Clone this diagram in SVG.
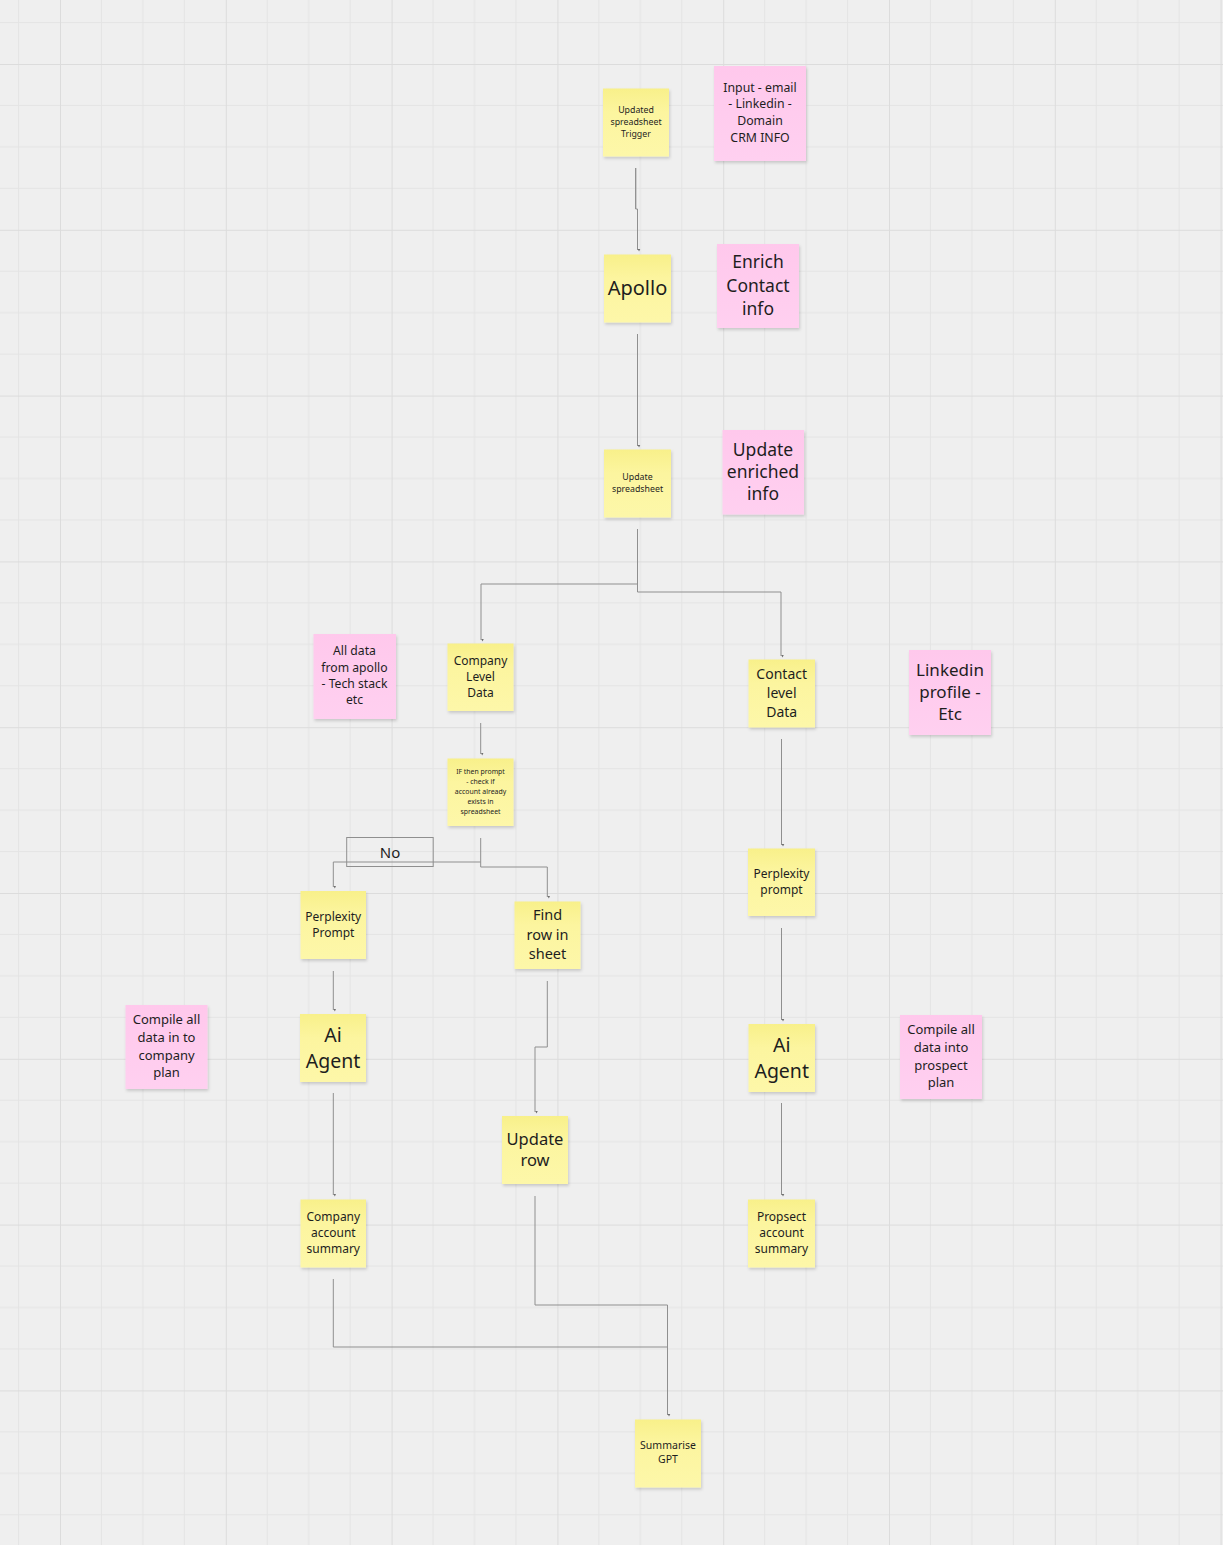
<svg xmlns="http://www.w3.org/2000/svg" width="1223" height="1545" viewBox="0 0 1223 1545">
<style>
  .t { font-family: "Noto Sans", "Open Sans", "DejaVu Sans", sans-serif; fill: #1e1e1e; text-anchor: middle; }
  .y { fill: url(#yg); filter: url(#sh); }
  .p { fill: url(#pg); filter: url(#sh); }
  .c { fill: none; stroke: #8f8f8f; stroke-width: 1; marker-end: url(#ah); }
  .cn { fill: none; stroke: #8f8f8f; stroke-width: 1; }
</style>
<defs>
  <pattern id="grid" patternUnits="userSpaceOnUse" x="60" y="64" width="165.8" height="165.8">
    <rect width="165.8" height="165.8" fill="#efefef"/>
    <path d="M41.45,0V165.8M82.9,0V165.8M124.35,0V165.8M0,41.45H165.8M0,82.9H165.8M0,124.35H165.8" stroke="#e4e4e4" stroke-width="1"/>
    <path d="M0.5,0V165.8M0,0.5H165.8" stroke="#dcdcdc" stroke-width="1"/>
  </pattern>
  <linearGradient id="yg" x1="0" y1="0" x2="0" y2="1">
    <stop offset="0" stop-color="#f8f08a"/>
    <stop offset="0.35" stop-color="#fcf59f"/>
    <stop offset="1" stop-color="#fdf7a9"/>
  </linearGradient>
  <linearGradient id="pg" x1="0" y1="0" x2="0" y2="1">
    <stop offset="0" stop-color="#ffc8ec"/>
    <stop offset="1" stop-color="#ffd0f0"/>
  </linearGradient>
  <filter id="sh" x="-10%" y="-10%" width="130%" height="130%">
    <feDropShadow dx="1" dy="2" stdDeviation="1.5" flood-color="#000" flood-opacity="0.16"/>
  </filter>
  <marker id="ah" viewBox="0 0 6 6" refX="3" refY="6" markerWidth="3" markerHeight="3" orient="auto-start-reverse" markerUnits="userSpaceOnUse">
    <path d="M0,0L6,0L3,6Z" fill="#6f6f6f" transform="rotate(-90 3 3)"/>
  </marker>
</defs>
<rect width="1223" height="1545" fill="url(#grid)"/>

<g id="connectors">
  <path class="cn" d="M635.7,168V209" stroke="#c4c4c4"/>
  <path class="c" d="M635.7,168V209H637.5V250"/>
  <path class="c" d="M637.5,334V446"/>
  <path class="c" d="M637.5,529V584H481V640"/>
  <path class="c" d="M637.5,584V592H781V656"/>
  <path class="c" d="M480.7,723V754"/>
  <path class="c" d="M480.7,838V862H333.3V887"/>
  <path class="c" d="M480.7,862V867H547.3V897"/>
  <path class="c" d="M333.3,971V1010"/>
  <path class="c" d="M547.3,981V1047H535V1112"/>
  <path class="c" d="M333.3,1093V1195"/>
  <path class="c" d="M781.5,739V845"/>
  <path class="c" d="M781.5,928V1020"/>
  <path class="c" d="M781.5,1103V1195"/>
  <path class="c" d="M535,1196V1305H667.5V1415"/>
  <path class="cn" d="M333.3,1279V1347H667.5"/>
</g>

<g id="no-label">
  <rect x="346.7" y="837.5" width="86.5" height="29" fill="none" stroke="#8f8f8f" stroke-width="1"/>
  <text class="t" x="390" y="858" font-size="15">No</text>
</g>

<g id="trigger">
  <rect class="y" x="603" y="88.5" width="66" height="68"/>
  <text class="t" font-size="8.8"><tspan x="636" y="113">Updated</tspan><tspan x="636" y="125">spreadsheet</tspan><tspan x="636" y="137">Trigger</tspan></text>
</g>

<g id="input-note">
  <rect class="p" x="714" y="66" width="92" height="95"/>
  <text class="t" font-size="12.3"><tspan x="760" y="91.5">Input - email</tspan><tspan x="760" y="108">- Linkedin -</tspan><tspan x="760" y="124.5">Domain</tspan><tspan x="760" y="141.5">CRM INFO</tspan></text>
</g>

<g id="apollo">
  <rect class="y" x="604" y="254.5" width="67" height="68"/>
  <text class="t" x="637.5" y="295" font-size="20">Apollo</text>
</g>

<g id="enrich-note">
  <rect class="p" x="717" y="244" width="82" height="84"/>
  <text class="t" font-size="17.5"><tspan x="758" y="268">Enrich</tspan><tspan x="758" y="291.5">Contact</tspan><tspan x="758" y="315">info</tspan></text>
</g>

<g id="update-spreadsheet">
  <rect class="y" x="604" y="449.5" width="67" height="68"/>
  <text class="t" font-size="8.8"><tspan x="637.5" y="480">Update</tspan><tspan x="637.5" y="492">spreadsheet</tspan></text>
</g>

<g id="update-enriched-note">
  <rect class="p" x="722.5" y="430" width="81.5" height="84.5"/>
  <text class="t" font-size="17.5"><tspan x="763" y="456">Update</tspan><tspan x="763" y="478">enriched</tspan><tspan x="763" y="500">info</tspan></text>
</g>

<g id="apollo-data-note">
  <rect class="p" x="313.5" y="634" width="82.5" height="85"/>
  <text class="t" font-size="12.2"><tspan x="354.5" y="655">All data</tspan><tspan x="354.5" y="671.5">from apollo</tspan><tspan x="354.5" y="688">- Tech stack</tspan><tspan x="354.5" y="704">etc</tspan></text>
</g>

<g id="company-level">
  <rect class="y" x="447.5" y="643.5" width="66" height="67.5"/>
  <text class="t" font-size="12"><tspan x="480.5" y="665">Company</tspan><tspan x="480.5" y="681">Level</tspan><tspan x="480.5" y="697">Data</tspan></text>
</g>

<g id="if-prompt">
  <rect class="y" x="447.5" y="758.5" width="66" height="67.5"/>
  <text class="t" font-size="6.9"><tspan x="480.5" y="773.5">IF then prompt</tspan><tspan x="480.5" y="783.5">- check if</tspan><tspan x="480.5" y="793.5">account already</tspan><tspan x="480.5" y="803.5">exists in</tspan><tspan x="480.5" y="814">spreadsheet</tspan></text>
</g>

<g id="perplexity-left">
  <rect class="y" x="300.5" y="891" width="65.5" height="68"/>
  <text class="t" font-size="12"><tspan x="333.3" y="920.5">Perplexity</tspan><tspan x="333.3" y="936.5">Prompt</tspan></text>
</g>

<g id="find-row">
  <rect class="y" x="514.5" y="901.5" width="66" height="67.5"/>
  <text class="t" font-size="14.5"><tspan x="547.5" y="920">Find</tspan><tspan x="547.5" y="939.5">row in</tspan><tspan x="547.5" y="958.5">sheet</tspan></text>
</g>

<g id="contact-level">
  <rect class="y" x="748.5" y="659.5" width="66.5" height="68"/>
  <text class="t" font-size="14"><tspan x="781.7" y="679">Contact</tspan><tspan x="781.7" y="697.5">level</tspan><tspan x="781.7" y="716.5">Data</tspan></text>
</g>

<g id="linkedin-note">
  <rect class="p" x="909" y="650" width="82" height="85"/>
  <text class="t" font-size="17"><tspan x="950" y="675.5">Linkedin</tspan><tspan x="950" y="697.5">profile -</tspan><tspan x="950" y="720">Etc</tspan></text>
</g>

<g id="perplexity-right">
  <rect class="y" x="748" y="848.5" width="67" height="67.5"/>
  <text class="t" font-size="12"><tspan x="781.5" y="877.5">Perplexity</tspan><tspan x="781.5" y="893.5">prompt</tspan></text>
</g>

<g id="company-plan-note">
  <rect class="p" x="125.5" y="1005" width="82" height="84"/>
  <text class="t" font-size="13"><tspan x="166.5" y="1024">Compile all</tspan><tspan x="166.5" y="1042">data in to</tspan><tspan x="166.5" y="1060">company</tspan><tspan x="166.5" y="1077">plan</tspan></text>
</g>

<g id="ai-agent-left">
  <rect class="y" x="300" y="1014" width="66" height="68"/>
  <text class="t" font-size="19.5"><tspan x="333" y="1042">Ai</tspan><tspan x="333" y="1068">Agent</tspan></text>
</g>

<g id="ai-agent-right">
  <rect class="y" x="748.5" y="1024" width="66.5" height="68"/>
  <text class="t" font-size="19.5"><tspan x="781.7" y="1052">Ai</tspan><tspan x="781.7" y="1078">Agent</tspan></text>
</g>

<g id="prospect-plan-note">
  <rect class="p" x="900" y="1015" width="82" height="84"/>
  <text class="t" font-size="13"><tspan x="941" y="1034">Compile all</tspan><tspan x="941" y="1052">data into</tspan><tspan x="941" y="1070">prospect</tspan><tspan x="941" y="1087">plan</tspan></text>
</g>

<g id="update-row">
  <rect class="y" x="502" y="1116" width="66" height="68"/>
  <text class="t" font-size="16.5"><tspan x="535" y="1145">Update</tspan><tspan x="535" y="1166">row</tspan></text>
</g>

<g id="company-summary">
  <rect class="y" x="300.5" y="1199.5" width="65.5" height="68"/>
  <text class="t" font-size="12"><tspan x="333.3" y="1220.5">Company</tspan><tspan x="333.3" y="1236.5">account</tspan><tspan x="333.3" y="1252.5">summary</tspan></text>
</g>

<g id="prospect-summary">
  <rect class="y" x="748" y="1199.5" width="67" height="68"/>
  <text class="t" font-size="12"><tspan x="781.5" y="1220.5">Propsect</tspan><tspan x="781.5" y="1236.5">account</tspan><tspan x="781.5" y="1252.5">summary</tspan></text>
</g>

<g id="summarise-gpt">
  <rect class="y" x="635" y="1419.5" width="66" height="68"/>
  <text class="t" font-size="10.5"><tspan x="668" y="1449">Summarise</tspan><tspan x="668" y="1463">GPT</tspan></text>
</g>
</svg>
